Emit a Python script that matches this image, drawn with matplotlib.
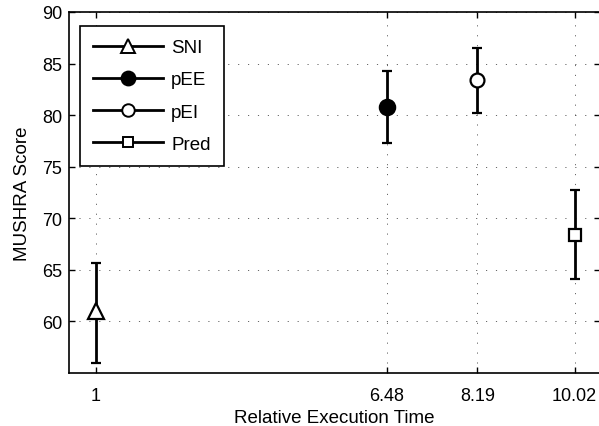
import matplotlib
matplotlib.use('Agg')
import matplotlib.pyplot as plt
from matplotlib import rcParams

rcParams['font.family'] = 'sans-serif'
rcParams['font.sans-serif'] = ['Liberation Sans']
rcParams['font.size'] = 13

# data
methods = ['SNI', 'pEE', 'pEI', 'Pred']
exec_time = [1, 6.48, 8.19, 10.02]
score = [61.0, 80.8, 83.4, 68.4]
err_low = [5.0, 3.5, 3.2, 4.3]
err_high = [4.7, 3.5, 3.1, 4.3]
markers = ['^', 'o', 'o', 's']
faces = ['white', 'black', 'white', 'white']
msizes = [11, 11, 10, 8]
tick_labels = ['1', '6.48', '8.19', '10.02']

fig = plt.figure(figsize=(5.99, 4.27), dpi=100)
ax = fig.add_axes([69 / 599, 1 - 374 / 427, 531 / 599, 361 / 427])

for i in range(len(methods)):
	ax.errorbar(exec_time[i], score[i], yerr=[[err_low[i]], [err_high[i]]],
		fmt=markers[i], color='black', mfc=faces[i], mec='black', mew=1.6,
		ms=msizes[i], elinewidth=2, capsize=3.6, capthick=2, label=methods[i])

ax.set_xlim(0.5, 10.5)
ax.set_ylim(55, 90)
ax.set_xticks(exec_time)
ax.set_xticklabels(tick_labels)
ax.set_yticks([60, 65, 70, 75, 80, 85, 90])
ax.tick_params(direction='in', top=True, right=True, length=4, width=1)
ax.tick_params(axis='x', pad=10)
ax.tick_params(axis='y', pad=5)
ax.grid(True, linestyle=(0, (1.2, 9)), color='black', linewidth=0.7, alpha=0.6)
for s in ax.spines.values():
	s.set_linewidth(1.2)

ax.set_xlabel('Relative Execution Time', fontsize=13.5, labelpad=3.5)
ax.set_ylabel('MUSHRA Score', fontsize=13.5, labelpad=7.5)

handles = []
for i in range(len(methods)):
	h, = ax.plot([], [], marker=markers[i], color='black', mfc=faces[i], mec='black',
		mew=1.4, ms=msizes[i] - 1, lw=2)
	handles.append(h)
leg = ax.legend(handles, methods, loc='upper left', bbox_to_anchor=(0.021, 0.961),
	borderaxespad=0, fancybox=False, edgecolor='black', framealpha=1,
	handlelength=3.7, labelspacing=0.8, borderpad=0.7, handletextpad=0.45,
	fontsize=13.5)
leg.get_frame().set_linewidth(1.2)

fig.savefig('out.png', dpi=100)
